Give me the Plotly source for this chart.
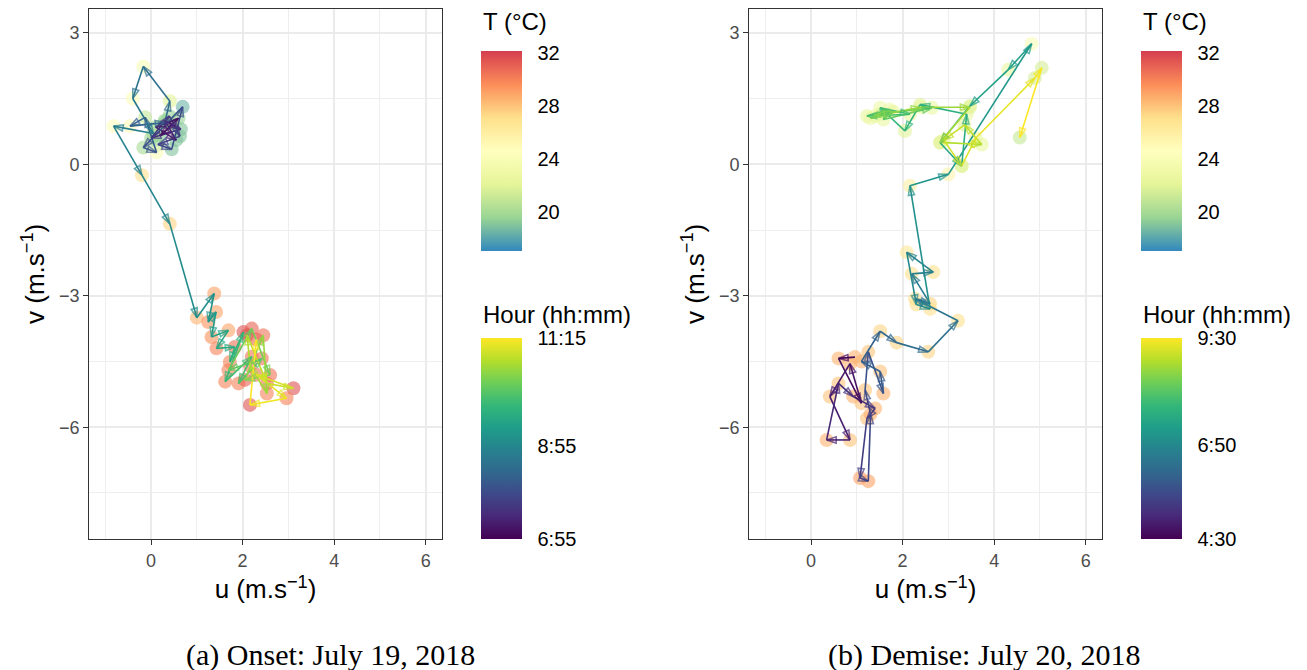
import plotly.graph_objs as go
from plotly.colors import sample_colorscale

# (a) Onset: July 19, 2018
onset_hour = ["6:55", "7:00", "7:05", "7:10", "7:15", "7:20", "7:25", "7:30", "7:35", "7:40",
              "7:45", "7:50", "7:55", "8:00", "8:05", "8:10", "8:15", "8:20", "8:25", "8:30",
              "8:35", "8:40", "8:45", "8:50", "8:55", "9:00", "9:05", "9:10", "9:15", "9:20",
              "9:25", "9:30", "9:35", "9:40", "9:45", "9:50", "9:55", "10:00", "10:05", "10:10",
              "10:15", "10:20", "10:25", "10:30", "10:35", "10:40", "10:45", "10:50", "10:55", "11:00",
              "11:05", "11:10", "11:15"]
onset_u = [0.45, 0.20, 0.60, 0.10, 0.55, 0.30, 0.65, 0.00, 0.40, 0.63,
           0.15, 0.45, 0.69, -0.17, 0.12, -0.13, -0.46, 0.30, 0.41, -0.17,
           -0.40, 0.05, -0.82, -0.20, 0.41, 1.00, 1.38, 1.25, 1.42, 1.32,
           1.69, 1.43, 1.83, 1.72, 2.02, 1.62, 2.20, 1.91, 2.42, 1.69,
           2.20, 2.60, 2.05, 2.45, 2.53, 2.16, 2.10, 2.53, 3.11, 2.30,
           2.96, 2.16, 2.30]
onset_v = [0.90, 0.65, 1.05, 0.85, 0.55, 1.00, 0.80, 0.60, 1.10, 0.64,
           0.45, 0.34, 1.31, 0.38, 0.27, 1.07, 0.87, 0.95, 1.44, 2.23,
           1.50, 0.70, 0.87, -0.25, -1.36, -3.50, -2.95, -3.60, -3.37, -3.94,
           -3.79, -4.20, -4.17, -4.51, -3.83, -4.96, -4.39, -5.00, -4.43, -4.70,
           -3.75, -4.81, -4.92, -3.90, -5.23, -4.60, -3.90, -5.00, -5.11, -4.80,
           -5.34, -5.49, -4.00]
onset_T = [19.5, 19.0, 19.5, 20.0, 19.0, 19.5, 19.0, 20.0, 19.5, 19.0,
           19.5, 19.0, 18.5, 20.0, 24.0, 21.0, 25.0, 19.5, 22.0, 24.0,
           24.5, 20.0, 24.5, 27.0, 27.5, 28.5, 29.0, 29.5, 29.0, 29.5,
           29.0, 30.0, 30.5, 30.0, 31.5, 30.0, 30.5, 30.0, 30.5, 30.0,
           31.0, 30.5, 31.0, 30.5, 30.0, 30.5, 31.5, 30.5, 31.5, 30.5,
           30.0, 31.5, 31.0]

# (b) Demise: July 20, 2018
demise_hour = ["4:30", "4:35", "4:40", "4:45", "4:50", "4:55", "5:00", "5:05", "5:10", "5:15",
               "5:20", "5:25", "5:30", "5:35", "5:40", "5:45", "5:50", "5:55", "6:00", "6:05",
               "6:10", "6:15", "6:20", "6:25", "6:30", "6:35", "6:40", "6:45", "6:50", "6:55",
               "7:00", "7:05", "7:10", "7:15", "7:20", "7:25", "7:30", "7:35", "7:40", "7:45",
               "7:50", "7:55", "8:00", "8:05", "8:10", "8:15", "8:20", "8:25", "8:30", "8:35",
               "8:40", "8:45", "8:50", "8:55", "9:00", "9:05", "9:10", "9:15", "9:20", "9:25",
               "9:30"]
demise_u = [0.96, 0.60, 1.10, 0.85, 0.41, 0.85, 0.34, 0.60, 0.92, 1.40,
            1.22, 1.07, 1.25, 1.30, 1.18, 1.25, 1.58, 1.51, 1.10, 1.51,
            1.87, 2.56, 3.21, 2.27, 2.60, 2.20, 2.67, 2.09, 2.30, 2.60,
            2.16, 3.00, 4.82, 4.31, 3.47, 2.82, 3.29, 3.40, 2.38, 2.05,
            1.51, 2.16, 1.22, 1.72, 1.58, 2.64, 1.51, 1.30, 1.80, 1.40,
            2.40, 3.47, 2.82, 3.73, 3.35, 2.90, 3.29, 3.60, 4.89, 5.04,
            4.56]
demise_v = [-4.40, -4.43, -5.45, -4.55, -5.30, -6.29, -6.29, -5.00, -5.30, -5.57,
            -5.80, -7.16, -7.23, -5.70, -5.15, -4.28, -5.23, -4.73, -4.50, -3.81,
            -4.07, -4.28, -3.57, -3.07, -3.18, -2.50, -2.46, -2.01, -3.20, -3.30,
            -0.49, -0.23, 2.75, 2.16, 1.33, 0.49, -0.04, 1.14, 1.36, 0.76,
            1.29, 1.14, 1.10, 1.25, 1.02, 1.29, 1.15, 1.05, 1.20, 1.10,
            1.30, 1.30, 0.50, 0.45, 0.90, 0.55, -0.04, 0.60, 1.97, 2.20,
            0.61]
demise_T = [28.5, 28.5, 28.0, 28.5, 28.0, 28.0, 28.5, 28.0, 28.5, 28.5,
            28.0, 29.0, 29.0, 28.5, 28.0, 28.0, 28.5, 28.0, 28.5, 27.5,
            27.5, 27.5, 27.0, 27.0, 27.5, 27.0, 27.0, 26.5, 27.0, 27.0,
            26.0, 25.5, 24.0, 22.5, 22.0, 22.0, 22.0, 22.5, 22.0, 22.0,
            23.0, 22.5, 22.5, 23.0, 22.5, 22.5, 22.5, 23.0, 22.5, 22.5,
            22.5, 22.0, 22.0, 22.5, 22.0, 22.5, 22.0, 22.5, 21.5, 21.5,
            21.0]

temp_ticks = [20, 24, 28, 32]
onset_hour_ticks = ["6:55", "8:55", "11:15"]
demise_hour_ticks = ["4:30", "6:50", "9:30"]
captions = ["(a) Onset: July 19, 2018", "(b) Demise: July 20, 2018"]

spectral = ["#3288BD", "#99D594", "#E6F598", "#FFFFBF", "#FEE08B", "#FC8D59", "#D53E4F"]
spectral_scale = [[i / 6, c] for i, c in enumerate(spectral)]
T_MIN, T_MAX = 17.06, 32.15

# the page body adds an 8 px margin, so the figure is 8 px smaller
W, H = 1299, 662


def to_min(s):
    h, m = s.split(":")
    return int(h) * 60 + int(m)


def add_panel(fig, n, u, v, temp, hours, hour_ticks, cb_px):
    xa = "x" if n == 1 else "x2"
    ya = "y" if n == 1 else "y2"
    mins = [to_min(h) for h in hours]
    hmin, hmax = mins[0], mins[-1]
    cb_common = dict(x=cb_px / W, xanchor="left", yanchor="middle", lenmode="pixels",
                     thickness=41, xpad=0, ypad=0, outlinewidth=0,
                     ticks="outside", ticklen=12, tickcolor="rgba(0,0,0,0)",
                     tickfont=dict(size=20, color="black"))

    # points coloured by temperature
    fig.add_trace(go.Scatter(
        x=u, y=v, mode="markers", xaxis=xa, yaxis=ya, showlegend=False,
        marker=dict(size=14, color=temp, colorscale=spectral_scale, cmin=T_MIN, cmax=T_MAX,
                    opacity=0.6, line=dict(width=0), showscale=True,
                    colorbar=dict(cb_common, y=1 - 143 / H, len=200, tickvals=temp_ticks))))

    # path segments coloured by hour
    fr = [(m - hmin) / (hmax - hmin) for m in mins]
    cols = sample_colorscale("Viridis", fr)
    for i in range(len(u) - 1):
        fig.add_trace(go.Scatter(
            x=[u[i], u[i + 1]], y=[v[i], v[i + 1]], mode="lines", xaxis=xa, yaxis=ya,
            showlegend=False, hoverinfo="skip",
            line=dict(color=cols[i + 1], width=1.6)))

    # arrow heads
    fig.add_trace(go.Scatter(
        x=u, y=v, mode="markers", xaxis=xa, yaxis=ya, showlegend=False,
        marker=dict(symbol="arrow-open", angleref="previous",
                    size=[0] + [10] * (len(u) - 1),
                    color=mins, colorscale="Viridis", cmin=hmin, cmax=hmax,
                    line=dict(width=1.6), showscale=True,
                    colorbar=dict(cb_common, y=1 - 430.5 / H, len=201,
                                  tickvals=[to_min(t) for t in hour_ticks],
                                  ticktext=hour_ticks))))

    # legend titles
    for ty, txt in [(13, "T (°C)"), (306, "Hour (hh:mm)")]:
        fig.add_annotation(text=txt, x=cb_px / W, y=1 - ty / H, xref="paper", yref="paper",
                           xanchor="left", yanchor="middle", showarrow=False,
                           font=dict(size=24, color="black"))


fig = go.Figure()
add_panel(fig, 1, onset_u, onset_v, onset_T, onset_hour, onset_hour_ticks, 473)
add_panel(fig, 2, demise_u, demise_v, demise_T, demise_hour, demise_hour_ticks, 1133)

axis_common = dict(showline=True, mirror=True, linecolor="#333333", linewidth=1.3,
                   ticks="outside", ticklen=5, tickcolor="#333333", tickwidth=1.3,
                   showgrid=True, gridcolor="#EBEBEB", gridwidth=1.8, zeroline=False,
                   tickfont=dict(size=18, color="#4D4D4D"))
xa_common = dict(axis_common, range=[-1.35, 6.35], tick0=0, dtick=2,
                 minor=dict(dtick=1, showgrid=True, gridcolor="#EEEEEE", gridwidth=1),
                 title=dict(text="u (m.s<sup>−1</sup>)", standoff=10,
                            font=dict(size=26, color="black")))
ya_common = dict(axis_common, range=[-8.55, 3.55], tick0=0, dtick=3,
                 minor=dict(dtick=1.5, showgrid=True, gridcolor="#EEEEEE", gridwidth=1),
                 title=dict(text="v (m.s<sup>−1</sup>)", standoff=6,
                            font=dict(size=26, color="black")))

ydom = [(H - 531) / H, 0.999]
fig.update_layout(
    width=W, height=H, margin=dict(l=0, r=0, t=0, b=0),
    paper_bgcolor="white", plot_bgcolor="white",
    font=dict(family="Liberation Sans, Arial, sans-serif"),
    xaxis=dict(xa_common, domain=[81.3 / W, 433.7 / W], anchor="y"),
    yaxis=dict(ya_common, domain=ydom, anchor="x"),
    xaxis2=dict(xa_common, domain=[741.3 / W, 1093.7 / W], anchor="y2"),
    yaxis2=dict(ya_common, domain=ydom, anchor="x2"),
)

for cx, txt in zip([322, 976], captions):
    fig.add_annotation(text=txt, x=cx / W, y=15 / H, xref="paper", yref="paper",
                       xanchor="center", yanchor="middle", showarrow=False,
                       font=dict(family="Liberation Serif, serif", size=30, color="black"))

fig.write_html("out.html")
